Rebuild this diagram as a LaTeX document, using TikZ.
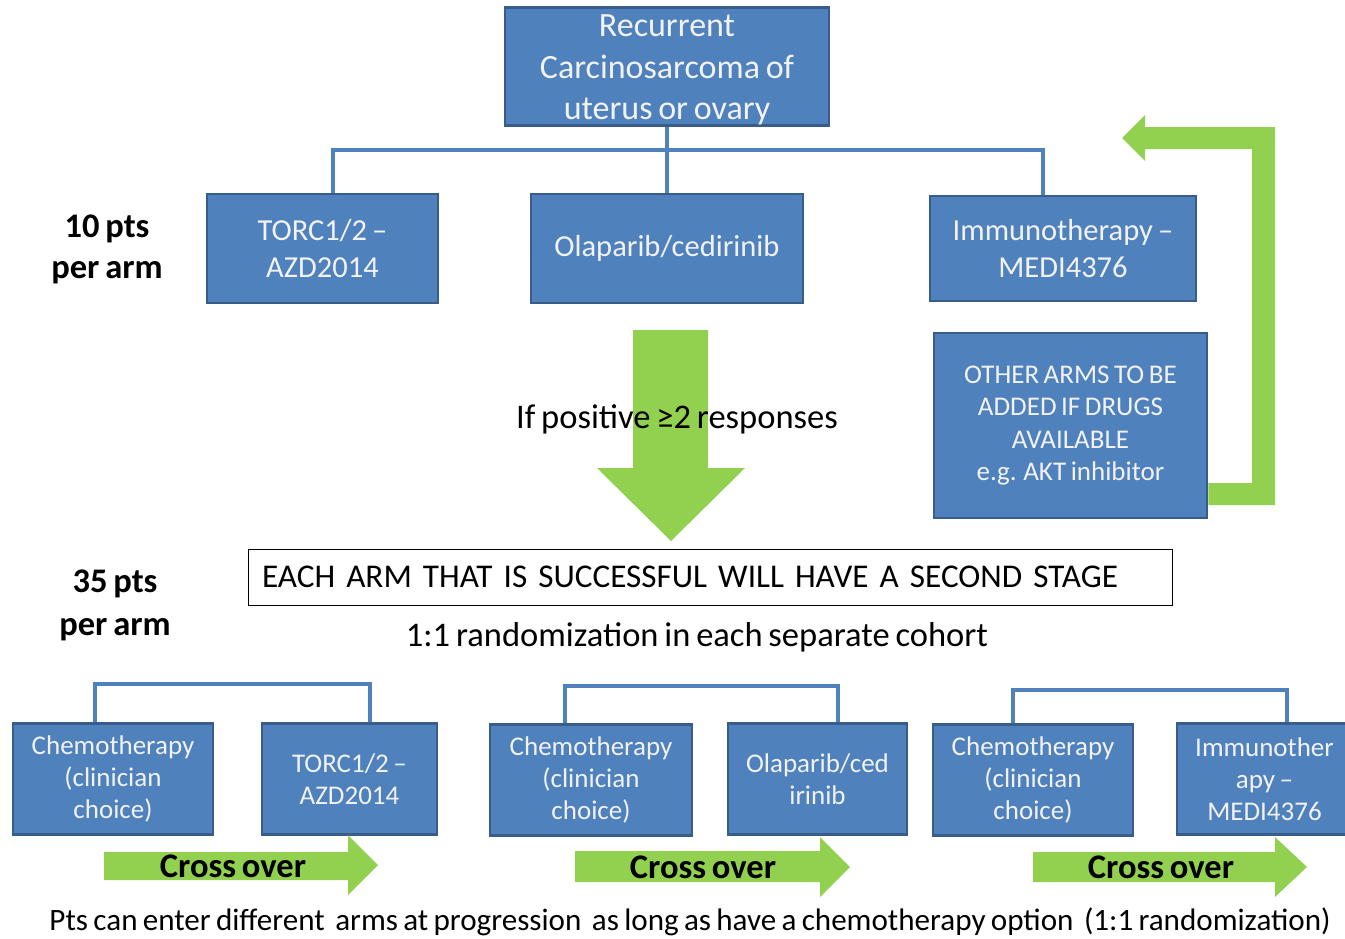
\documentclass[tikz,border=0pt]{standalone}
\usepackage{fontspec}
\setmainfont{Carlito}[WordSpace=0.75]
\usetikzlibrary{positioning}

\definecolor{armblue}{HTML}{4F81BD}
\definecolor{armedge}{HTML}{385D8A}
\definecolor{armtext}{HTML}{F2F2F2}
\definecolor{crossgreen}{HTML}{92D050}

\newcommand*{\topfont}{\fontsize{34}{41.5}\selectfont}
\newcommand*{\armfont}{\fontsize{30.5}{37}\selectfont}
\newcommand*{\otherfont}{\fontsize{27}{32.5}\selectfont}
\newcommand*{\cohortfont}{\fontsize{27}{32}\selectfont}
\newcommand*{\notefont}{\fontsize{34.5}{38}\selectfont}
\newcommand*{\ptsfont}{\fontsize{34.5}{41}\selectfont\bfseries}

\tikzset{
  armbox/.style={draw=armedge, line width=2.5pt, fill=armblue, text=armtext,
    align=center, inner sep=0pt},
  stagebox/.style={draw=black, line width=0.9pt, fill=white, align=left,
    inner xsep=14pt, inner ysep=0pt, font=\fontsize{33.2}{38}\selectfont},
  note/.style={align=center, inner sep=0pt},
  link/.style={draw=armblue, line width=4pt},
  bigarrow/.style={fill=crossgreen, draw=none},
}

\begin{document}
\begin{tikzpicture}[x=1pt, y=-1pt]
  \useasboundingbox (0,0) rectangle (1345,938);

  % First stage
  \node[armbox, minimum width=324pt, minimum height=117pt, font=\topfont]
    (root) at (667,66.5) {\strut Recurrent\\Carcinosarcoma of\\uterus or ovary};
  \node[armbox, minimum width=231pt, minimum height=109pt, font=\armfont]
    (torc) at (322.5,248.5) {TORC1/2 --\\AZD2014};
  \node[armbox, minimum width=272pt, minimum height=109pt, font=\armfont]
    (olap) at (667,248.5) {Olaparib/cedirinib};
  \node[armbox, minimum width=266pt, minimum height=105pt, font=\armfont]
    (immuno) at (1063,248.5) {Immunotherapy --\\MEDI4376};
  \node[armbox, minimum width=273pt, minimum height=185pt, font=\otherfont]
    (other) at (1070.5,425.5) {OTHER ARMS TO BE\\ADDED IF DRUGS\\AVAILABLE\\e.g. AKT inhibitor};

  \node[note, font=\ptsfont] (ptsA) at (107,249) {10 pts\\per arm};
  \node[note, font=\ptsfont, align=center] (ptsB) at (115,605) {35 pts\\[2pt]per arm};

  % Connect the first stage
  \coordinate (fork) at (667,150);
  \draw[link] (root.south) -- (olap.north);
  \draw[link] ([xshift=10.5pt]torc.north) |- (fork) -| ([xshift=-20pt]immuno.north);

  % Green arrows
  \fill[bigarrow] (633,330) -- (708,330) -- (708,468) -- (745,468) -- (671,541)
    -- (597,468) -- (633,468) -- cycle;
  \fill[bigarrow] (other.east |- 0,483) -- (1252,483) -- (1252,149) -- (1145,149)
    -- (1145,161) -- (1122,138) -- (1145,115) -- (1145,127) -- (1275,127)
    -- (1275,505) -- (other.east |- 0,505) -- cycle;
  \node[note, font=\notefont] (pos) at (677,419) {If positive ≥2 responses};

  % Second stage
  \node[stagebox, text width=896pt, minimum height=56pt] (stage) at (710,577)
    {EACH ARM THAT IS SUCCESSFUL WILL HAVE A SECOND STAGE};
  \node[note, font=\notefont] (rand) at (697,637) {1:1 randomization in each separate cohort};

  \node[armbox, minimum width=200pt, minimum height=111pt, font=\cohortfont]
    (chemoA) at (113,779) {Chemotherapy\\(clinician\\choice)};
  \node[armbox, minimum width=175pt, minimum height=111pt, font=\cohortfont]
    (torcB) at (349.5,779) {TORC1/2 --\\AZD2014};
  \node[armbox, minimum width=202pt, minimum height=111pt, font=\cohortfont]
    (chemoB) at (591,780) {Chemotherapy\\(clinician\\choice)};
  \node[armbox, minimum width=179pt, minimum height=111pt, font=\cohortfont]
    (olapB) at (817.5,779) {Olaparib/ced\\irinib};
  \node[armbox, minimum width=200pt, minimum height=111pt, font=\cohortfont]
    (chemoC) at (1033,780) {Chemotherapy\\(clinician\\choice)};
  \node[armbox, minimum width=175pt, minimum height=111pt, font=\cohortfont]
    (immunoB) at (1264.5,779) {Immunother\\apy --\\MEDI4376};

  \draw[link] ([xshift=-18pt]chemoA.north) -- ++(0,-38) -| ([xshift=20.5pt]torcB.north);
  \draw[link] ([xshift=-26pt]chemoB.north) -- ++(0,-37) -| ([xshift=20.5pt]olapB.north);
  \draw[link] ([xshift=-20pt]chemoC.north) -- ++(0,-33) -| ([xshift=22.5pt]immunoB.north);

  % Cross over arrows
  \fill[bigarrow] (104,852) -- (348,852) -- (348,835) -- (378,865) -- (348,895)
    -- (348,880) -- (104,880) -- cycle;
  \fill[bigarrow] (575,851) -- (820,851) -- (820,837) -- (850,867) -- (820,897)
    -- (820,882) -- (575,882) -- cycle;
  \fill[bigarrow] (1033,852) -- (1275,852) -- (1275,837) -- (1307,867) -- (1275,897)
    -- (1275,882) -- (1033,882) -- cycle;
  \node[note, font=\ptsfont] (crossA) at (233,866) {Cross over};
  \node[note, font=\ptsfont] (crossB) at (703,867) {Cross over};
  \node[note, font=\ptsfont] (crossC) at (1161,867) {Cross over};

  \node[note, font=\fontsize{31.1}{34}\selectfont] (enter) at (690,922)
    {Pts can enter different\ \ arms at progression\ \ as long as have a chemotherapy option\ \ (1:1 randomization)};

\end{tikzpicture}
\end{document}
